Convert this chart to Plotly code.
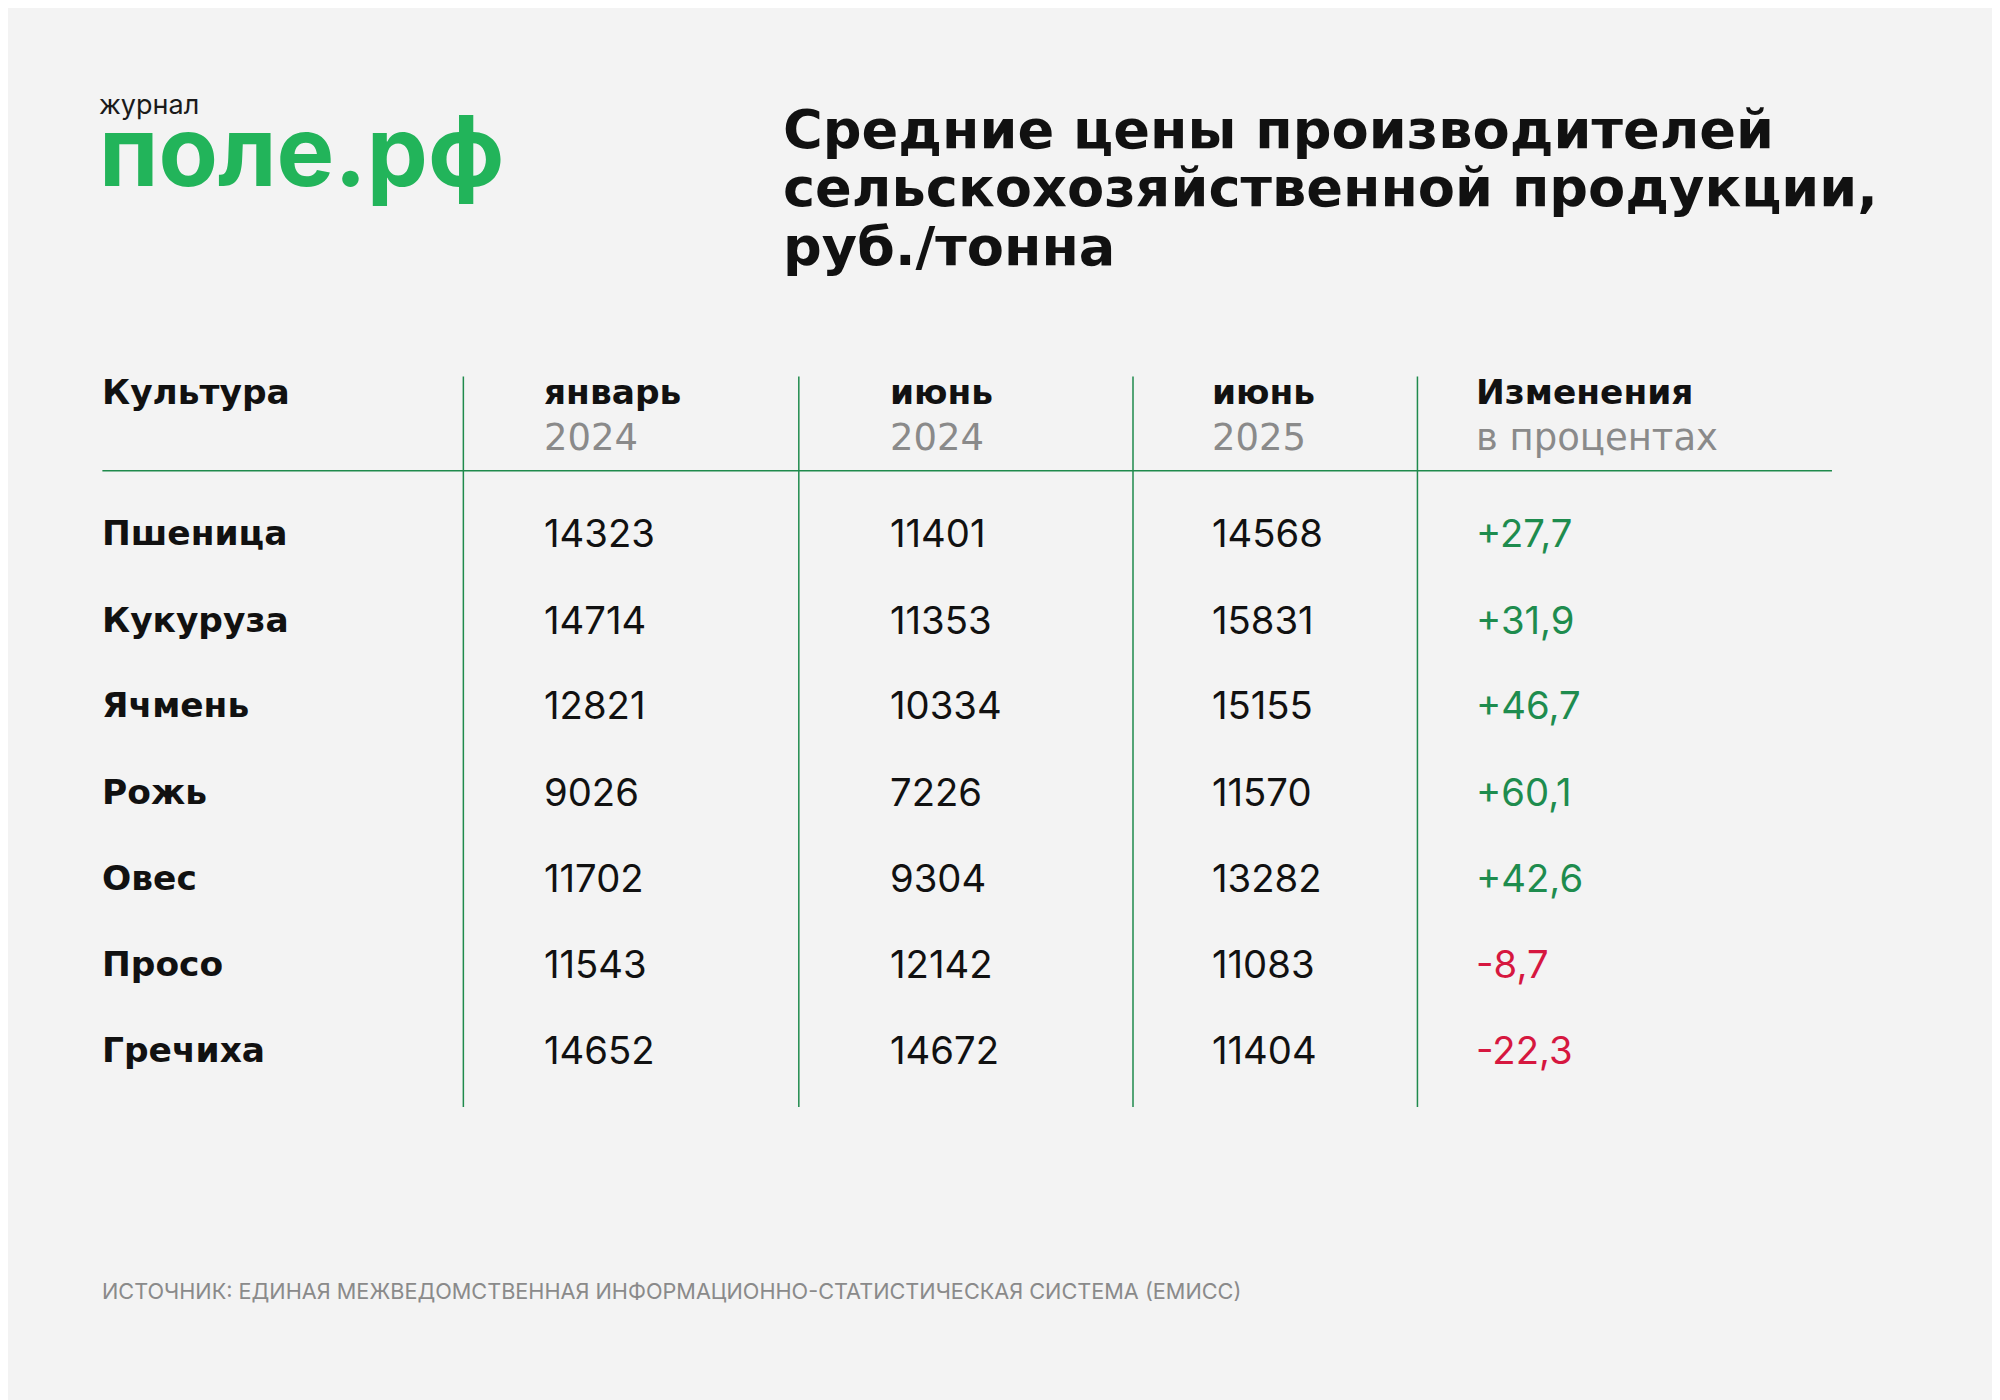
import plotly.graph_objects as go

crops = ["Пшеница", "Кукуруза", "Ячмень", "Рожь", "Овес", "Просо", "Гречиха"]
jan2024 = ["14323", "14714", "12821", "9026", "11702", "11543", "14652"]
jun2024 = ["11401", "11353", "10334", "7226", "9304", "12142", "14672"]
jun2025 = ["14568", "15831", "15155", "11570", "13282", "11083", "11404"]
change = ["+27,7", "+31,9", "+46,7", "+60,1", "+42,6", "-8,7", "-22,3"]
headers1 = ["Культура", "январь", "июнь", "июнь", "Изменения"]
headers2 = ["", "2024", "2024", "2025", "в процентах"]

W, H = 1568, 1098
GREEN_LINE = "#1f8a4c"
GREEN = "#1e8c4e"
RED = "#d6173f"
GRAY = "#8a8a8a"
FONT = "Inter"
S = 2000 / W
OFF = 6

col_x = [78, 425, 696, 948, 1155]
row_y = [418, 486, 553, 621, 688, 756, 823]
vlines = [363, 626, 888, 1111]

fig = go.Figure()
ann = []
def txt(x, y, t, size, color="#111", bold=False, font=FONT, yanchor="middle"):
    ann.append(dict(x=x, y=y, text=f"<b>{t}</b>" if bold else t, xref="x", yref="y",
                    xanchor="left", yanchor=yanchor, showarrow=False, align="left",
                    font=dict(size=size * S, color=color, family=font)))

# logo (one text block: small word above the big green name)
logo = ("<span style='font-size:%dpx;color:#1a1a1a'>журнал</span><br>"
        "<span style='font-size:%dpx;color:#22b45a'><b>поле.рф</b></span>") % (round(21 * S), round(76 * S))
ann.append(dict(x=76, y=116, text=logo, xref="x", yref="y", xanchor="left", yanchor="middle",
                showarrow=False, align="left",
                font=dict(size=55, color="#22b45a", family=FONT)))
# title
for i, line in enumerate(["Средние цены производителей", "сельскохозяйственной продукции,", "руб./тонна"]):
    txt(612, 101 + i * 46, line, 42.5, "#111", bold=True, font="DejaVu Sans")

for i, h in enumerate(headers1):
    txt(col_x[i], 307, h, 27, "#111", bold=True, font="DejaVu Sans")
    if headers2[i]:
        txt(col_x[i], 343, headers2[i], 29, GRAY, font="DejaVu Sans")

cols = [crops, jan2024, jun2024, jun2025, change]
for r in range(len(crops)):
    for c, data in enumerate(cols):
        v = data[r]
        if c == 0:
            txt(col_x[c], row_y[r], v, 27, "#111", bold=True, font="DejaVu Sans")
        elif c == 4:
            txt(col_x[c], row_y[r], v, 30, GREEN if v.startswith("+") else RED)
        else:
            txt(col_x[c], row_y[r], v, 30, "#111")

txt(78, 1012, "ИСТОЧНИК: ЕДИНАЯ МЕЖВЕДОМСТВЕННАЯ ИНФОРМАЦИОННО-СТАТИСТИЧЕСКАЯ СИСТЕМА (ЕМИСС)", 17, GRAY)

shapes = [dict(type="line", xref="x", yref="y", x0=80, x1=1436, y0=369, y1=369,
               line=dict(color=GREEN_LINE, width=1.5))]
for vx in vlines:
    shapes.append(dict(type="line", xref="x", yref="y", x0=vx, x1=vx, y0=295, y1=868,
                       line=dict(color=GREEN_LINE, width=1.5)))

fig.update_layout(width=2000, height=1400, margin=dict(l=0, r=0, t=0, b=0),
                  paper_bgcolor="#f3f3f3", plot_bgcolor="#f3f3f3",
                  xaxis=dict(range=[OFF, W + OFF], visible=False, fixedrange=True),
                  yaxis=dict(range=[H + OFF, OFF], visible=False, fixedrange=True),
                  annotations=ann, shapes=shapes, showlegend=False)
fig.write_html("out.html")
